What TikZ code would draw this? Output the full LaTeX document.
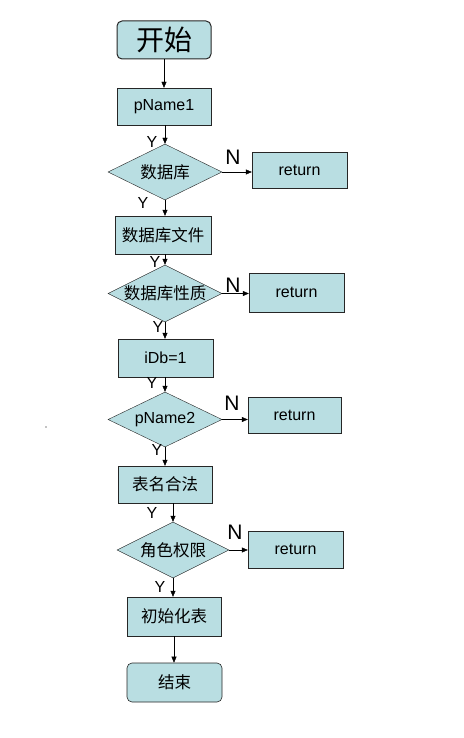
\documentclass[tikz,border=0pt]{standalone}
\usepackage{fontspec}
\setmainfont{Liberation Sans}
\newfontfamily\cjk{Noto Sans CJK SC}
\usetikzlibrary{shapes.geometric,arrows.meta}
\definecolor{boxfill}{RGB}{185,222,226}
\tikzset{
    box/.style={draw=black!85, fill=boxfill, rectangle, inner sep=0pt, font=\fontsize{16}{16}\selectfont},
    endbox/.style={box, rounded corners=5pt, line width=1pt},
    choice/.style={draw=black!85, fill=boxfill, diamond, inner sep=0pt, minimum width=114pt, minimum height=56pt, font=\fontsize{16}{16}\selectfont},
    arr/.style={-{Triangle[length=6pt,width=5pt]}, black},
    yes/.style={font=\fontsize{16}{16}\selectfont},
    no/.style={font=\fontsize{21}{21}\selectfont}
}
\begin{document}
\begin{tikzpicture}[x=1pt,y=-1pt]
    \useasboundingbox (0,0) rectangle (463,738);

    % Main column
    \node[endbox, minimum width=94pt, minimum height=38pt, font=\cjk\fontsize{28}{28}\selectfont] (start) at (164,40) {开始};
    \node[box, minimum width=94pt, minimum height=37pt] (pname1) at (164,106.5) {pName1};
    \node[choice, font=\cjk\fontsize{16.5}{16}\selectfont] (db) at (165,172) {\makebox[0pt]{数据库}};
    \node[box, minimum width=96pt, minimum height=38pt, font=\cjk\fontsize{16.5}{16}\selectfont] (dbfile) at (163,235) {数据库文件};
    \node[choice, minimum height=57pt, font=\cjk\fontsize{16.5}{16}\selectfont] (dbprop) at (165,293.5) {\makebox[0pt]{数据库性质}};
    \node[box, minimum width=95pt, minimum height=38pt] (idb) at (165.5,358) {iDb=1};
    \node[choice, minimum height=55pt] (pname2) at (165,419.5) {\makebox[0pt]{pName2}};
    \node[box, minimum width=94pt, minimum height=37pt, font=\cjk\fontsize{16.5}{16}\selectfont] (table) at (165,484.5) {表名合法};
    \node[choice, minimum width=112pt, font=\cjk\fontsize{16.5}{16}\selectfont] (role) at (173,550) {\makebox[0pt]{角色权限}};
    \node[box, minimum width=94pt, minimum height=39pt, font=\cjk\fontsize{16.5}{16}\selectfont] (init) at (174,616.5) {初始化表};
    \node[endbox, line width=0.6pt, minimum width=95pt, minimum height=39pt, font=\cjk\fontsize{16.5}{16}\selectfont] (stop) at (174.5,682.5) {结束};

    % Return boxes
    \node[box, minimum width=95pt, minimum height=36pt] (ret1) at (299.5,170) {return};
    \node[box, minimum width=95pt, minimum height=39pt] (ret2) at (296.5,292.5) {return};
    \node[box, minimum width=93pt, minimum height=36pt] (ret3) at (294.5,415) {return};
    \node[box, minimum width=95pt, minimum height=37pt] (ret4) at (295.5,549.5) {return};

    % Down arrows
    \draw[arr] (start.south) -- (start.south |- pname1.north);
    \draw[arr] (pname1.south -| db.north) -- (db.north);
    \draw[arr] (db.south) -- (db.south |- dbfile.north);
    \draw[arr] (dbfile.south -| dbprop.north) -- (dbprop.north);
    \draw[arr] (dbprop.south) -- (dbprop.south |- idb.north);
    \draw[arr] (idb.south -| pname2.north) -- (pname2.north);
    \draw[arr] (pname2.south) -- (pname2.south |- table.north);
    \draw[arr] (table.south -| role.north) -- (role.north);
    \draw[arr] (role.south) -- (role.south |- init.north);
    \draw[arr] (init.south) -- (init.south |- stop.north);

    % Side arrows
    \draw[arr] (db.east) -- (db.east -| ret1.west);
    \draw[arr] (dbprop.east) -- (dbprop.east -| ret2.west);
    \draw[arr] (pname2.east) -- (pname2.east -| ret3.west);
    \draw[arr] (role.east) -- (role.east -| ret4.west);

    % Labels
    \node[yes] at (152,142) {Y};
    \node[yes] at (143,203) {Y};
    \node[yes] at (155,262) {Y};
    \node[yes] at (158,327) {Y};
    \node[yes] at (152,383) {Y};
    \node[yes] at (157,450) {Y};
    \node[yes] at (152,513) {Y};
    \node[yes] at (160,587) {Y};
    \node[no] at (233,157) {N};
    \node[no] at (233,285) {N};
    \node[no] at (232,403) {N};
    \node[no] at (235,532) {N};

    % Stray dot
    \fill (46,427) circle (0.7pt);
\end{tikzpicture}
\end{document}
